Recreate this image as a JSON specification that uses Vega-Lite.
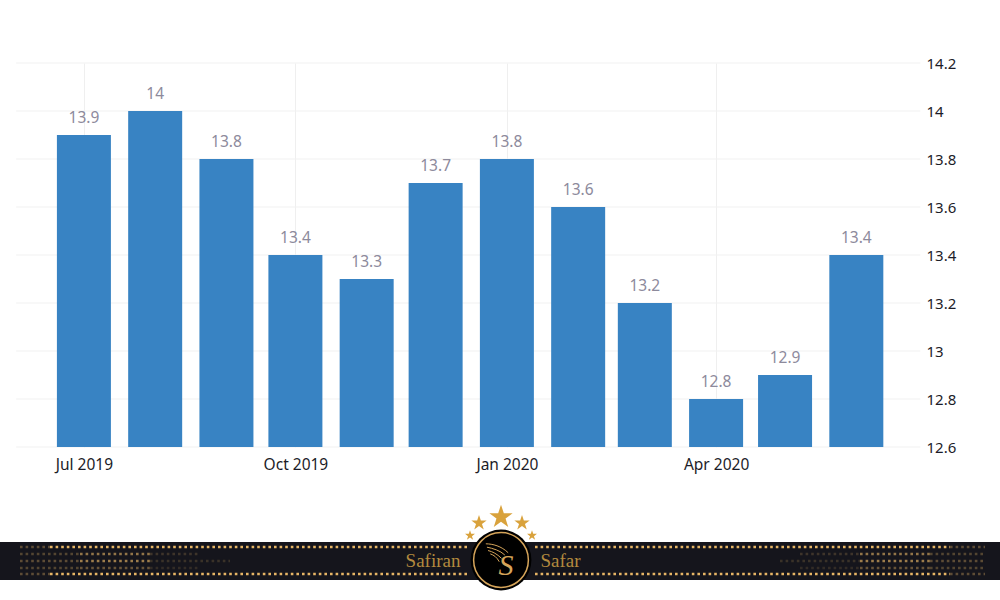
{
"$schema":"https://vega.github.io/schema/vega-lite/v6.json",
"padding":{"left":0,"top":56,"right":0,"bottom":0},
"spacing":31,
"config":{"view":{"stroke":null},"font":"Noto Sans"},
"datasets":{
"rates":[
{"month":"2019-07-01","rate":13.9},{"month":"2019-08-01","rate":14},{"month":"2019-09-01","rate":13.8},{"month":"2019-10-01","rate":13.4},{"month":"2019-11-01","rate":13.3},{"month":"2019-12-01","rate":13.7},{"month":"2020-01-01","rate":13.8},{"month":"2020-02-01","rate":13.6},{"month":"2020-03-01","rate":13.2},{"month":"2020-04-01","rate":12.8},{"month":"2020-05-01","rate":12.9},{"month":"2020-06-01","rate":13.4}],
"grid":[{"a":"2019-06-01T12:00:00","b":"2020-06-28T20:00:00","v":12.6},{"a":"2019-06-01T12:00:00","b":"2020-06-28T20:00:00","v":12.8},{"a":"2019-06-01T12:00:00","b":"2020-06-28T20:00:00","v":13},{"a":"2019-06-01T12:00:00","b":"2020-06-28T20:00:00","v":13.2},{"a":"2019-06-01T12:00:00","b":"2020-06-28T20:00:00","v":13.4},{"a":"2019-06-01T12:00:00","b":"2020-06-28T20:00:00","v":13.6},{"a":"2019-06-01T12:00:00","b":"2020-06-28T20:00:00","v":13.8},{"a":"2019-06-01T12:00:00","b":"2020-06-28T20:00:00","v":14},{"a":"2019-06-01T12:00:00","b":"2020-06-28T20:00:00","v":14.2}],
"band":[{"x":0,"x2":1000,"y":542,"y2":580}],
"dots":[
{"x":20,"x2":50,"y":547,"d":0.35},{"x":50,"x2":470,"y":547,"d":1},{"x":535,"x2":950,"y":547,"d":1},{"x":950,"x2":985,"y":547,"d":0.35},
{"x":20,"x2":50,"y":574,"d":0.35},{"x":50,"x2":470,"y":574,"d":1},{"x":535,"x2":950,"y":574,"d":1},{"x":950,"x2":985,"y":574,"d":0.35},
{"x":20,"x2":80,"y":554,"d":0.3},{"x":80,"x2":150,"y":554,"d":0.6},{"x":150,"x2":200,"y":554,"d":0.2},
{"x":20,"x2":80,"y":561,"d":0.35},{"x":80,"x2":150,"y":561,"d":0.65},{"x":150,"x2":230,"y":561,"d":0.18},
{"x":20,"x2":80,"y":568,"d":0.3},{"x":80,"x2":150,"y":568,"d":0.4},{"x":150,"x2":200,"y":568,"d":0.15},
{"x":800,"x2":860,"y":554,"d":0.2},{"x":860,"x2":930,"y":554,"d":0.6},{"x":930,"x2":985,"y":554,"d":0.3},
{"x":780,"x2":860,"y":561,"d":0.18},{"x":860,"x2":930,"y":561,"d":0.65},{"x":930,"x2":985,"y":561,"d":0.35},
{"x":800,"x2":860,"y":568,"d":0.15},{"x":860,"x2":930,"y":568,"d":0.4},{"x":930,"x2":985,"y":568,"d":0.3}
]
},
"vconcat":[
{
"width":1000,"height":384,
"layer":[
{"data":{"name":"grid"},"mark":{"type":"rule","color":"#f1f1f1","strokeWidth":1},
"encoding":{"x":{"field":"a","type":"temporal"},"x2":{"field":"b"},"y":{"field":"v","type":"quantitative"}}},
{"data":{"name":"rates"},"mark":{"type":"bar","size":54,"color":"#3883c3"},
"encoding":{"x":{"field":"month","type":"temporal"},"y":{"field":"rate","type":"quantitative"},"y2":{"datum":12.6}}},
{"data":{"name":"rates"},"mark":{"type":"text","baseline":"bottom","dy":-9,"fontSize":15.5,"color":"#8d8a9c"},
"encoding":{"x":{"field":"month","type":"temporal"},"y":{"field":"rate","type":"quantitative"},"text":{"field":"rate","type":"quantitative","format":".3~f"}}}
],
"encoding":{
"x":{"type":"temporal","title":null,"scale":{"type":"utc","nice":false,"padding":0,"domain":["2019-05-25T12:00:00","2020-08-02T12:00:00"]},
"axis":{"values":["2019-07-01","2019-10-01","2020-01-01","2020-04-01"],"labelExpr":"utcFormat(datum.value,'%b %Y')","grid":true,"gridColor":"#efefef","domain":false,"ticks":false,"labelFontSize":15.5,"labelColor":"#1c1c28","labelPadding":10}},
"y":{"type":"quantitative","title":null,"scale":{"domain":[12.6,14.2],"zero":false,"nice":false},
"axis":{"orient":"right","offset":-74,"values":[12.6,12.8,13,13.2,13.4,13.6,13.8,14,14.2],"format":"~r","grid":false,"domain":false,"ticks":false,"labelPadding":0,"labelFontSize":15,"labelColor":"#1c1c28"}}
}
},
{
"width":1000,"height":95,
"encoding":{
"x":{"type":"quantitative","axis":null,"scale":{"domain":[0,1000],"nice":false,"zero":false}},
"y":{"type":"quantitative","axis":null,"scale":{"domain":[600,505],"nice":false,"zero":false}}
},
"layer":[
{"data":{"name":"band"},"mark":{"type":"rect","color":"#15151c"},
"encoding":{"x":{"field":"x"},"x2":{"field":"x2"},"y":{"field":"y"},"y2":{"field":"y2"}}},
{"data":{"name":"dots"},"mark":{"type":"rule","color":"#e6b565","strokeWidth":2.6,"strokeDash":[2.6,3]},
"encoding":{"x":{"field":"x"},"x2":{"field":"x2"},"y":{"field":"y"},"opacity":{"field":"d","type":"quantitative","legend":null,"scale":{"domain":[0,1],"range":[0,1]}}}},
{"data":{"values":[{"x":433,"y":561,"t":"Safiran"},{"x":560.5,"y":561,"t":"Safar"}]},"mark":{"type":"text","font":"Liberation Serif","fontSize":19,"color":"#b38a3e"},
"encoding":{"x":{"field":"x"},"y":{"field":"y"},"text":{"field":"t"}}},
{"data":{"values":[{"x":501,"y":560}]},"mark":{"type":"point","filled":true,"shape":"circle","size":3700,"color":"#000000","opacity":1},
"encoding":{"x":{"field":"x"},"y":{"field":"y"}}},
{"data":{"values":[{"x":501,"y":560}]},"mark":{"type":"point","filled":false,"shape":"circle","size":3000,"color":"#d5a45a","strokeWidth":1.5,"opacity":1},
"encoding":{"x":{"field":"x"},"y":{"field":"y"}}},
{"data":{"values":[{"x":501,"y":517}]},"mark":{"type":"point","filled":true,"opacity":1,"color":"#d9a23c","size":600,"shape":"M0,-1L0.23,-0.31L0.95,-0.31L0.37,0.12L0.59,0.81L0,0.38L-0.59,0.81L-0.37,0.12L-0.95,-0.31L-0.23,-0.31Z"},
"encoding":{"x":{"field":"x"},"y":{"field":"y"}}},
{"data":{"values":[{"x":479,"y":523},{"x":522,"y":523}]},"mark":{"type":"point","filled":true,"opacity":1,"color":"#d9a23c","size":260,"shape":"M0,-1L0.23,-0.31L0.95,-0.31L0.37,0.12L0.59,0.81L0,0.38L-0.59,0.81L-0.37,0.12L-0.95,-0.31L-0.23,-0.31Z"},
"encoding":{"x":{"field":"x"},"y":{"field":"y"}}},
{"data":{"values":[{"x":470,"y":535.5},{"x":532,"y":535.5}]},"mark":{"type":"point","filled":true,"opacity":1,"color":"#d9a23c","size":110,"shape":"M0,-1L0.23,-0.31L0.95,-0.31L0.37,0.12L0.59,0.81L0,0.38L-0.59,0.81L-0.37,0.12L-0.95,-0.31L-0.23,-0.31Z"},
"encoding":{"x":{"field":"x"},"y":{"field":"y"}}},
{"data":{"values":[{"x":497,"y":555}]},"mark":{"type":"point","filled":false,"opacity":1,"color":"#d5a45a","strokeWidth":1,"size":500,"shape":"M-1,-1C-0.4,-1 0.4,-0.8 1,-0.2M-0.9,-0.7C-0.4,-0.6 0.3,-0.4 0.7,0M-0.8,-0.4C-0.4,-0.3 0,-0.1 0.4,0.3M-0.6,-0.1C-0.3,0 0,0.2 0.2,0.6"},
"encoding":{"x":{"field":"x"},"y":{"field":"y"}}},
{"data":{"values":[{"x":506,"y":566,"t":"S"}]},"mark":{"type":"text","font":"Liberation Serif","fontStyle":"italic","fontSize":30,"color":"#d5a45a"},
"encoding":{"x":{"field":"x"},"y":{"field":"y"},"text":{"field":"t"}}}
]
}
]
}
